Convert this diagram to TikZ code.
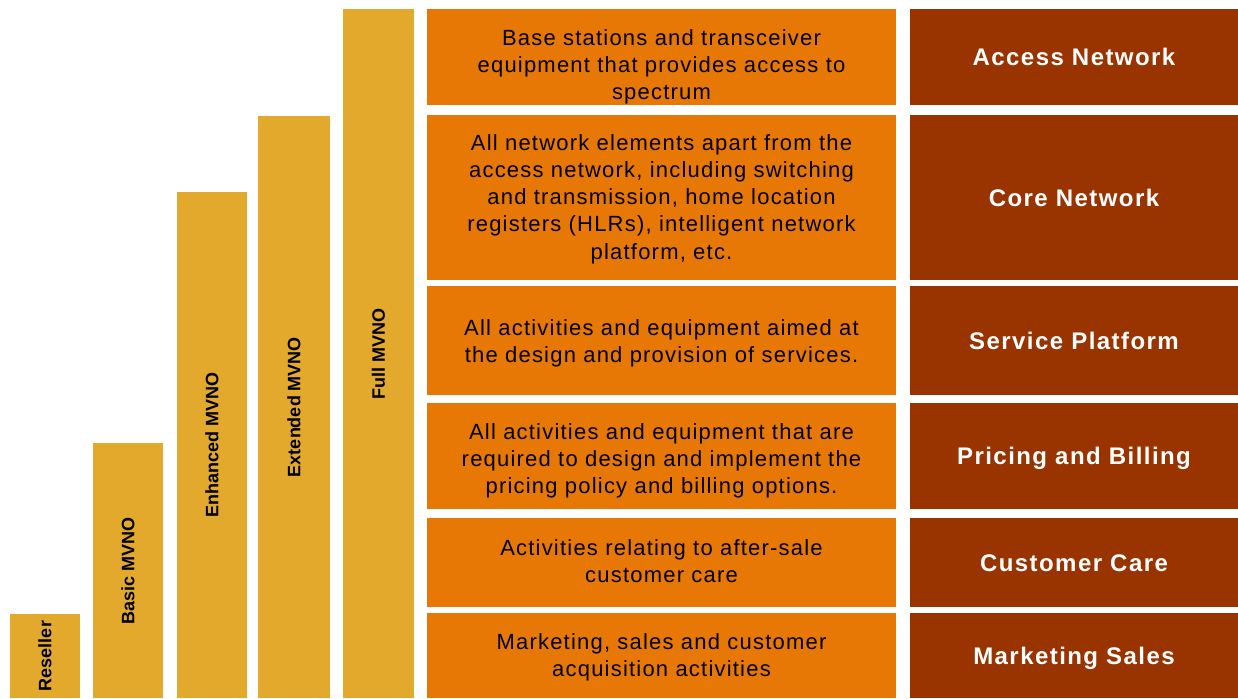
\documentclass[tikz,border=0pt]{standalone}
\usepackage{fontspec}
\setmainfont{Liberation Sans}
\newfontfamily\midfont[LetterSpace=5.5]{Liberation Sans}
\newfontfamily\layerfont[LetterSpace=6]{Liberation Sans}
\definecolor{mvnogold}{HTML}{E3A92D}
\definecolor{chainorange}{HTML}{E87805}
\definecolor{layerbrown}{HTML}{993300}

\tikzset{
  bar/.style={fill=mvnogold, rotate=90, minimum height=70pt, inner sep=0pt,
    font=\fontsize{18}{20}\selectfont\bfseries},
  chainbox/.style={fill=chainorange, minimum width=469pt, inner sep=0pt, align=center,
    font=\midfont\fontsize{22}{27.3}\selectfont},
  layerbox/.style={fill=layerbrown, text=white, minimum width=328pt, inner sep=0pt,
    text height=17.5pt, text depth=0pt, font=\layerfont\bfseries\fontsize{24}{28}\selectfont},
}

\begin{document}
\begin{tikzpicture}[x=1pt, y=-1pt]
    \useasboundingbox (0,0) rectangle (1238,698);
    % operator types
    \node[bar, minimum width=84pt] (reseller) at (45, 656) {Reseller};
    \node[bar, minimum width=255pt] (basic) at (128, 570.5) {Basic MVNO};
    \node[bar, minimum width=506pt] (enhanced) at (212, 445) {Enhanced MVNO};
    \node[bar, minimum width=582pt, minimum height=72pt] (extended) at (294, 407) {Extended MVNO};
    \node[bar, minimum width=689pt, minimum height=71pt] (full) at (378.5, 353.5) {Full MVNO};
    % descriptions
    \node[chainbox, minimum height=96pt, text height=90pt] (accessdesc) at (661.5, 57) {Base stations and transceiver\\equipment that provides access to\\spectrum};
    \node[chainbox, minimum height=165pt, text height=128pt] (coredesc) at (661.5, 197.5) {All network elements apart from the\\access network, including switching\\and transmission, home location\\registers (HLRs), intelligent network\\platform, etc.};
    \node[chainbox, minimum height=109pt, text height=49pt] (servicedesc) at (661.5, 340.5) {All activities and equipment aimed at\\the design and provision of services.};
    \node[chainbox, minimum height=106pt, text height=80pt] (pricingdesc) at (661.5, 456) {All activities and equipment that are\\required to design and implement the\\pricing policy and billing options.};
    \node[chainbox, minimum height=89pt, text height=41pt] (caredesc) at (661.5, 562.5) {Activities relating to after-sale\\customer care};
    \node[chainbox, minimum height=85pt, text height=47pt] (salesdesc) at (661.5, 655.5) {Marketing, sales and customer\\acquisition activities};
    % value chain layers
    \node[layerbox, minimum height=96pt] (access) at (1074, 57) {Access Network};
    \node[layerbox, minimum height=165pt] (core) at (1074, 197.5) {Core Network};
    \node[layerbox, minimum height=109pt] (service) at (1074, 340.5) {Service Platform};
    \node[layerbox, minimum height=106pt] (pricing) at (1074, 456) {Pricing and Billing};
    \node[layerbox, minimum height=89pt] (care) at (1074, 562.5) {Customer Care};
    \node[layerbox, minimum height=85pt] (sales) at (1074, 655.5) {Marketing Sales};
\end{tikzpicture}
\end{document}
